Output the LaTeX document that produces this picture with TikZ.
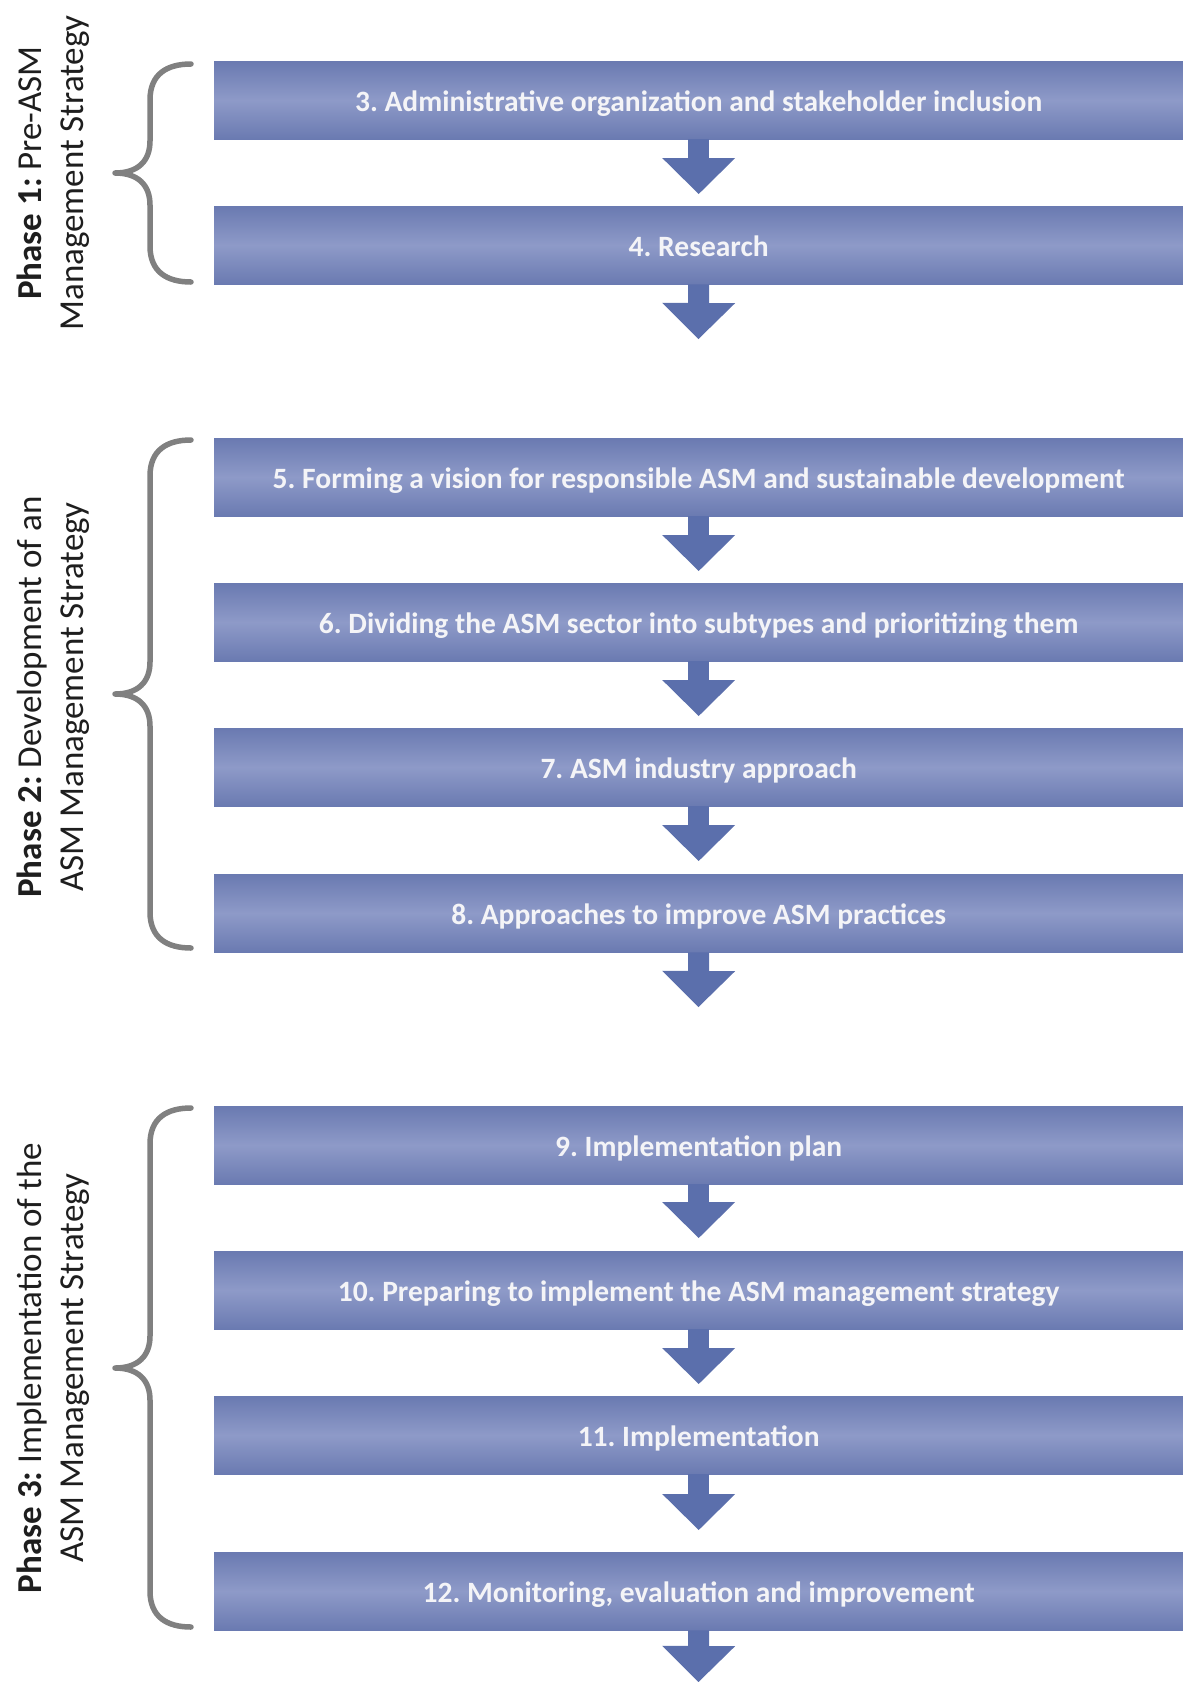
\documentclass[tikz,border=0pt]{standalone}
\usepackage{fontspec}
\setmainfont{Carlito}
\usetikzlibrary{arrows.meta}
\definecolor{boxdark}{HTML}{6A7AB1}
\definecolor{boxlight}{HTML}{8E9AC8}
\definecolor{arrowblue}{HTML}{5B6FAC}
\definecolor{bracegray}{HTML}{808080}
\definecolor{boxtext}{HTML}{F4F4F7}
\definecolor{phasetext}{HTML}{1E1E1E}
\frenchspacing
\begin{document}
\begin{tikzpicture}[x=1pt,y=-1pt,
  stepbox/.style={rectangle, anchor=north west, minimum width=969pt, minimum height=78pt,
    inner sep=0pt, text height=22pt, text depth=0pt,
    top color=boxdark, bottom color=boxdark, middle color=boxlight,
    text=boxtext, font=\fontsize{29.5}{34}\selectfont\bfseries},
  blockarrow/.style={draw=arrowblue, line width=21pt, line cap=butt,
    -{Triangle[width=73pt,length=36pt,line width=0pt,fill=arrowblue]}},
  bracestyle/.style={draw=bracegray, line width=5.5pt, line cap=round, line join=round},
  phaselabel/.style={rotate=90, align=center, text=phasetext,
    font=\fontsize{35}{42.5}\selectfont, inner sep=0pt}
]
\useasboundingbox (0,0) rectangle (1183,1682);

% boxes
\node[stepbox] (b3)  at (214,61)   {3. Administrative organization and stakeholder inclusion};
\node[stepbox] (b4)  at (214,206)  {4. Research};
\node[stepbox] (b5)  at (214,438)  {5. Forming a vision for responsible ASM and sustainable development};
\node[stepbox] (b6)  at (214,583)  {6. Dividing the ASM sector into subtypes and prioritizing them};
\node[stepbox] (b7)  at (214,728)  {7. ASM industry approach};
\node[stepbox] (b8)  at (214,874)  {8. Approaches to improve ASM practices};
\node[stepbox] (b9)  at (214,1106) {9. Implementation plan};
\node[stepbox] (b10) at (214,1251) {10. Preparing to implement the ASM management strategy};
\node[stepbox] (b11) at (214,1396) {11. Implementation};
\node[stepbox] (b12) at (214,1552) {12. Monitoring, evaluation and improvement};

% free ends of phase-final arrows
\coordinate (e1) at (698.5,339);
\coordinate (e2) at (698.5,1007);
\coordinate (e3) at (698.5,1682);

% arrows
\draw[blockarrow, shorten >=12pt] (b3.south) -- (b4.north);
\draw[blockarrow] (b4.south) -- (e1);
\draw[blockarrow, shorten >=12pt] (b5.south) -- (b6.north);
\draw[blockarrow, shorten >=12pt] (b6.south) -- (b7.north);
\draw[blockarrow, shorten >=13pt] (b7.south) -- (b8.north);
\draw[blockarrow] (b8.south) -- (e2);
\draw[blockarrow, shorten >=13pt] (b9.south) -- (b10.north);
\draw[blockarrow, shorten >=12pt] (b10.south) -- (b11.north);
\draw[blockarrow, shorten >=22pt] (b11.south) -- (b12.north);
\draw[blockarrow] (b12.south) -- (e3);

% braces
\draw[bracestyle] (191,64) .. controls (167,64) and (150,74) .. (150,100) -- (150,141)
  .. controls (150,161) and (138,173) .. (115,173)
  .. controls (138,173) and (150,185) .. (150,205) -- (150,246)
  .. controls (150,272) and (167,282) .. (191,282);
\draw[bracestyle] (191,440) .. controls (167,440) and (150,450) .. (150,476) -- (150,662)
  .. controls (150,682) and (138,694) .. (115,694)
  .. controls (138,694) and (150,706) .. (150,726) -- (150,912)
  .. controls (150,938) and (167,948) .. (191,948);
\draw[bracestyle] (191,1108) .. controls (167,1108) and (150,1118) .. (150,1144) -- (150,1336)
  .. controls (150,1356) and (138,1368) .. (115,1368)
  .. controls (138,1368) and (150,1380) .. (150,1400) -- (150,1591)
  .. controls (150,1617) and (167,1627) .. (191,1627);

% phase labels
\node[phaselabel] (p1) at (53,173)  {\textbf{Phase 1:} Pre-ASM\\Management Strategy};
\node[phaselabel] (p2) at (53,697)  {\textbf{Phase 2:} Development of an\\ASM Management Strategy};
\node[phaselabel] (p3) at (53,1368) {\textbf{Phase 3:} Implementation of the\\ASM Management Strategy};
\end{tikzpicture}
\end{document}
